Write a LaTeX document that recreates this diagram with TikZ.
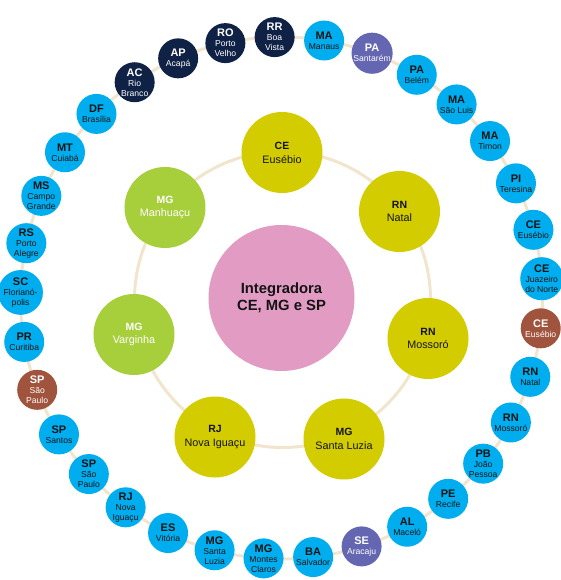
\documentclass[tikz,border=0pt]{standalone}
\usepackage{fontspec}
\setmainfont{Liberation Sans}
\definecolor{skyblue}{HTML}{00AEEF}
\definecolor{navyblue}{HTML}{0F2145}
\definecolor{slateviolet}{HTML}{6466B1}
\definecolor{rustbrown}{HTML}{A0533D}
\definecolor{olivegold}{HTML}{D3CC00}
\definecolor{limegreen}{HTML}{A7CE3B}
\definecolor{rosepink}{HTML}{E29CC4}
\definecolor{sandline}{HTML}{F2E5CE}
\definecolor{inkdark}{HTML}{141414}
\begin{document}
\begin{tikzpicture}[x=1pt, y=1pt
    , spot/.style = {circle,inner sep=0pt,outer sep=0mm,align=center}
    , small/.style = {spot,minimum size=40pt,font=\fontsize{8.6}{10}\selectfont}
    , big/.style = {spot,minimum size=81pt,font=\fontsize{10.8}{13.8}\selectfont}
    , skyspot/.style = {small,fill=skyblue,text=inkdark}
    , navyspot/.style = {small,fill=navyblue,text=white}
    , violetspot/.style = {small,fill=slateviolet,text=white}
    , rustspot/.style = {small,fill=rustbrown,text=white}
    , olivespot/.style = {big,fill=olivegold,text=inkdark}
    , limespot/.style = {big,fill=limegreen,text=white}
    , ring/.style = {draw=sandline,line width=3pt}
]
\useasboundingbox (-281.5,-282) rectangle (279.5,298);
\coordinate (mid) at (0,0);
\draw[ring] (mid) circle[radius=261];
\draw[ring] ([shift={(1,-1.5)}]mid) circle[radius=148];
\node[spot,minimum size=146pt,fill=rosepink,text=inkdark
    ,font=\fontsize{14.8}{17}\selectfont\bfseries] (hub) at (mid) {Integradora\\CE, MG e SP};
% inner ring
\foreach \st/\city/\look/\px/\py [count=\j from 0] in {CE/Eusébio/olivespot/0.5/145.5,
    RN/Natal/olivespot/118/86.5, RN/Mossoró/olivespot/146.5/-40.5,
    MG/Santa Luzia/olivespot/62.5/-141, RJ/Nova Iguaçu/olivespot/-66.5/-139,
    MG/Varginha/limespot/-147.5/-36.5, MG/Manhuaçu/limespot/-116.5/90.5}
    \node[\look] (i\j) at (\px, \py) {{\fontsize{10.5}{10.5}\selectfont\bfseries \st}\\\city};
% outer ring
\foreach \st/\city/\look [count=\j from 0] in {MA/Manaus/skyspot, PA/Santarém/violetspot,
    PA/Belém/skyspot, MA/São Luis/skyspot, MA/Timon/skyspot, PI/Teresina/skyspot,
    CE/Eusébio/skyspot, CE/Juazeiro\\do Norte/skyspot, CE/Eusébio/rustspot,
    RN/Natal/skyspot, RN/Mossoró/skyspot, PB/João\\Pessoa/skyspot, PE/Recife/skyspot,
    AL/Maceló/skyspot, SE/Aracaju/violetspot, BA/Salvador/skyspot,
    MG/Montes\\Claros/skyspot, MG/Santa\\Luzia/skyspot, ES/Vitória/skyspot,
    RJ/Nova\\Iguaçu/skyspot, SP/São\\Paulo/skyspot, SP/Santos/skyspot,
    SP/São\\Paulo/rustspot, PR/Curitiba/skyspot, SC/Florianó-\\polis/skyspot,
    RS/Porto\\Alegre/skyspot, MS/Campo\\Grande/skyspot, MT/Cuiabá/skyspot,
    DF/Brasília/skyspot, AC/Rio\\Branco/navyspot, AP/Acapá/navyspot,
    RO/Porto\\Velho/navyspot, RR/Boa\\Vista/navyspot}
    \node[\look] (o\j) at ({80.6-\j*360/33}:261) {{\fontsize{11}{11}\selectfont\bfseries \st}\\\city};
\end{tikzpicture}
\end{document}
